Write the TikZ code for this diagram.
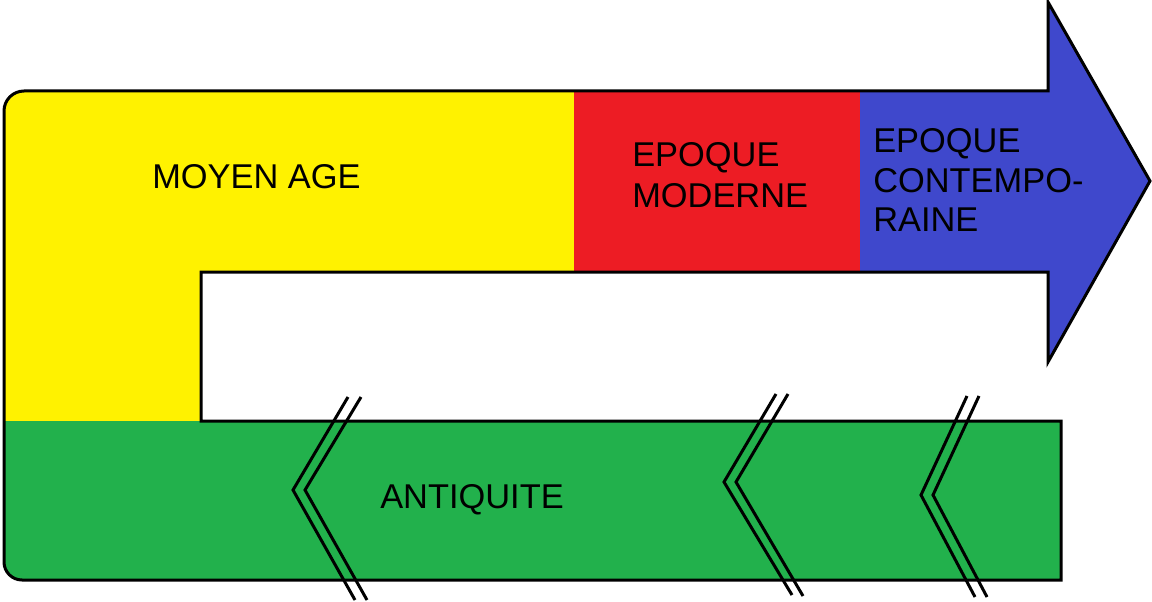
\documentclass[tikz,border=0pt]{standalone}
\usepackage{fontspec}
\setmainfont{Liberation Sans}
\definecolor{pyellow}{HTML}{FFF200}
\definecolor{pred}{HTML}{ED1C24}
\definecolor{pblue}{HTML}{3F48CC}
\definecolor{pgreen}{HTML}{22B14C}
\begin{document}
\begin{tikzpicture}[x=0.75pt,y=0.75pt,
  outline/.style={draw=black,line width=2.25pt,line join=miter},
  breakmark/.style={draw=black,line width=2.25pt},
  lbl/.style={anchor=base west,inner sep=0pt,font=\fontsize{25.8}{30}\selectfont}]
\useasboundingbox (0,0) rectangle (1152,601);
% fills
\fill[pyellow] (4,180) -- (4,490) arc(180:90:20) -- (575,510) -- (575,329) -- (201,329) -- (201,180) -- cycle;
\fill[pred] (574,510) rectangle (861,329);
\fill[pblue] (860,510) -- (1048,510) -- (1048,599) -- (1150,420) -- (1048,239) -- (1048,329) -- (860,329) -- cycle;
\fill[pgreen] (4,180) -- (4,39) arc(180:270:18) -- (1061,21) -- (1061,180) -- cycle;
% outline
\path[outline] (201,180) -- (201,329) -- (1048,329) -- (1048,239) -- (1150,420) -- (1048,599) -- (1048,510) -- (24,510) arc(90:180:20) -- (4,39) arc(180:270:18) -- (1061,21) -- (1061,180) -- cycle;
% break marks
\path[breakmark] (348,204) -- (293,111) -- (355,1);
\path[breakmark] (361,204) -- (305,111) -- (367,1);
\path[breakmark] (776,207) -- (724,119) -- (792,6);
\path[breakmark] (788,207) -- (736,119) -- (803,5);
\path[breakmark] (967,205) -- (921,106) -- (975,4);
\path[breakmark] (979,205) -- (933,106) -- (987,4);
% labels
\node[lbl] (moyen) at (152,412) {MOYEN AGE};
\node[lbl] (mod1) at (632,435) {EPOQUE};
\node[lbl] (mod2) at (632,394) {MODERNE};
\node[lbl] (con1) at (873,448) {EPOQUE};
\node[lbl] (con2) at (873,409) {CONTEMPO-};
\node[lbl] (con3) at (873,370) {RAINE};
\node[lbl] (anti) at (380,93) {ANTIQUITE};
\end{tikzpicture}
\end{document}
